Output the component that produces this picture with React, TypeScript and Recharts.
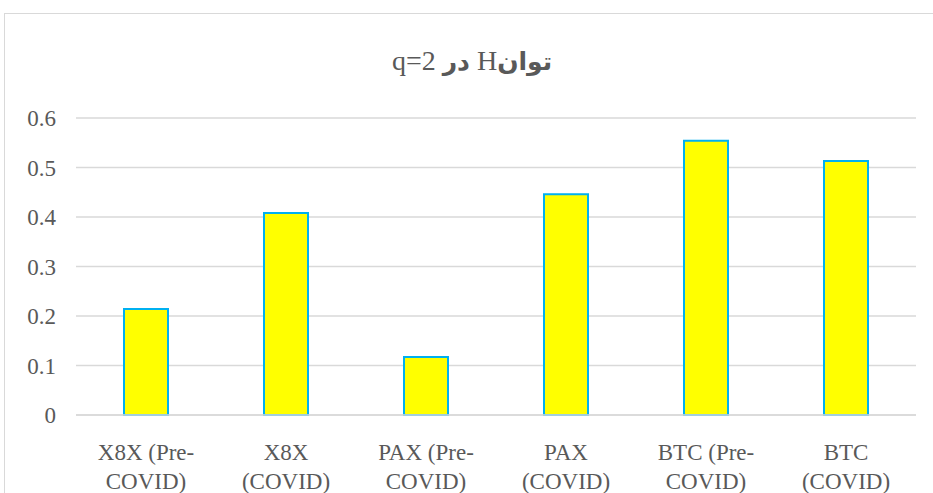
import React from "react";
import { BarChart, Bar, XAxis, YAxis, CartesianGrid } from "recharts";

const categories = [
  "X8X (Pre-COVID)",
  "X8X (COVID)",
  "PAX (Pre-COVID)",
  "PAX (COVID)",
  "BTC (Pre-COVID)",
  "BTC (COVID)",
];
const hValues = [0.214, 0.408, 0.117, 0.446, 0.554, 0.513];
const tickLines = [
  ["X8X (Pre-", "COVID)"],
  ["X8X", "(COVID)"],
  ["PAX (Pre-", "COVID)"],
  ["PAX", "(COVID)"],
  ["BTC (Pre-", "COVID)"],
  ["BTC", "(COVID)"],
];
const yTicks = [0, 0.1, 0.2, 0.3, 0.4, 0.5, 0.6];

const data = categories.map((name, i) => ({ name, h: hValues[i] }));

const FONT = "'Liberation Serif', 'Times New Roman', serif";
const TEXT = "#595959";

function CategoryTick(props: any) {
  const { x, y, index } = props;
  const lines = tickLines[index] || [];
  return (
    <g transform={`translate(${x},${y})`}>
      {lines.map((ln, i) => (
        <text
          key={i}
          x={0}
          y={37 + i * 29}
          textAnchor="middle"
          fill={TEXT}
          fontSize={23}
          fontFamily={FONT}
        >
          {ln}
        </text>
      ))}
    </g>
  );
}

export default function App() {
  return (
    <div
      style={{
        position: "absolute",
        left: 0,
        top: 0,
        width: 933,
        height: 493,
        overflow: "hidden",
        background: "#fff",
      }}
    >
      <div
        style={{
          position: "absolute",
          left: 4,
          top: 13,
          width: 960,
          height: 500,
          border: "1px solid #d9d9d9",
        }}
      />
      <div
        dir="rtl"
        style={{
          position: "absolute",
          left: 272,
          width: 400,
          top: 43,
          textAlign: "center",
          fontFamily: `${FONT}, 'DejaVu Sans'`,
          fontSize: 28,
          color: TEXT,
          lineHeight: "36px",
        }}
      >
        <b style={{ fontFamily: "'DejaVu Sans'", fontSize: 25 }}>توان</b>H{" "}
        <b style={{ fontFamily: "'DejaVu Sans'", fontSize: 25 }}>در</b> q=2
      </div>
      <div style={{ position: "absolute", left: 0, top: 0 }}>
        <BarChart
          width={933}
          height={493}
          data={data}
          margin={{ top: 118, right: 17, left: 0, bottom: 0 }}
        >
          <CartesianGrid vertical={false} stroke="#d9d9d9" strokeWidth={1.5} />
          <XAxis
            dataKey="name"
            height={78}
            interval={0}
            tickLine={false}
            axisLine={{ stroke: "#d9d9d9", strokeWidth: 1.5 }}
            tick={<CategoryTick />}
          />
          <YAxis
            width={76}
            domain={[0, 0.6]}
            ticks={yTicks}
            axisLine={false}
            tickLine={false}
            tickSize={0}
            tickMargin={20}
            tick={{ fill: TEXT, fontSize: 23, fontFamily: FONT }}
            tickFormatter={(v: number) => String(v)}
          />
          <Bar
            dataKey="h"
            fill="#FFFF00"
            stroke="#00B0F0"
            strokeWidth={2}
            barSize={44}
            isAnimationActive={false}
          />
        </BarChart>
      </div>
    </div>
  );
}
